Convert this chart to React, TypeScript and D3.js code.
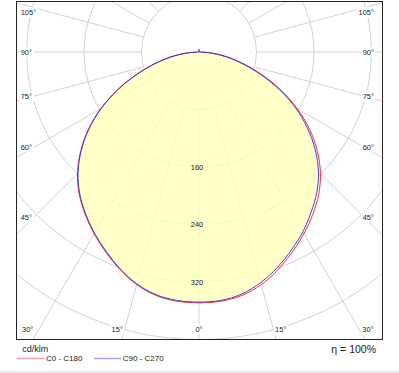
import React from "react";
import * as d3 from "d3";

// gamma angles (deg from nadir)
const gammas = [0, 5, 10, 15, 20, 25, 30, 35, 40, 45, 50, 55, 60, 65, 70, 75, 80, 85, 90];
// C0 - C180 (red), cd/klm
const c0 = [349, 348, 344, 335, 322, 307, 292, 276, 259, 239, 215, 188, 158, 126, 94, 65, 41, 19, 2];
const c180 = [349, 348, 344, 335, 322, 307, 292, 276, 259, 239, 215, 188, 158, 126, 94, 65, 41, 19, 2];
// C90 - C270 (blue)
const c90 = [348, 347, 342, 332, 319, 304, 289, 272, 255, 235, 211, 184, 155, 123, 91, 62, 39, 17, 2];
const c270 = [348, 347, 343, 334, 321, 306, 291, 275, 258, 238, 214, 187, 157, 125, 93, 64, 40, 18, 2];
// small upward component of C90 - C270
const upperGammas = [175, 180];
const c90Upper = [0, 4];

const ringValues = [80, 160, 240, 320, 400];
const ringLabels = [160, 240, 320];
const angleTicks = [0, 15, 30, 45, 60, 75, 90, 105];
const radialStep = 15;

const unitLabel = "cd/klm";
const seriesNames = ["C0 - C180", "C90 - C270"];
const efficiencyLabel = "η = 100%";

const W = 399;
const H = 373;
const cx = 199;
const cy = 52;
const frame = { left: 16, top: 1, right: 382, bottom: 339 };
const FONT = "'Liberation Sans', Arial, sans-serif";

const r = d3.scaleLinear().domain([0, 400]).range([0, 287.5]);
const rad = (deg: number) => (deg * Math.PI) / 180;

type P = { a: number; v: number };

function planePoints(left: number[], right: number[], upperL?: number[], upperR?: number[]): P[] {
  const pts: P[] = [];
  if (upperL) {
    for (let i = upperGammas.length - 1; i >= 0; i--) pts.push({ a: Math.PI + rad(upperGammas[i]), v: upperL[i] });
  }
  for (let i = gammas.length - 1; i >= 1; i--) pts.push({ a: Math.PI + rad(gammas[i]), v: left[i] });
  pts.push({ a: Math.PI, v: (left[0] + right[0]) / 2 });
  for (let i = 1; i < gammas.length; i++) pts.push({ a: Math.PI - rad(gammas[i]), v: right[i] });
  if (upperR) {
    for (let i = 0; i < upperGammas.length; i++) pts.push({ a: Math.PI - rad(upperGammas[i]), v: upperR[i] });
  }
  return pts;
}

const radialLine = d3
  .lineRadial<P>()
  .angle((d) => d.a)
  .radius((d) => r(d.v))
  .curve(d3.curveCatmullRom.alpha(0.5));

const redPath = radialLine(planePoints(c180, c0)) || "";
const bluePath = radialLine(planePoints(c270, c90, c90Upper, c90Upper)) || "";
const fillPath = (radialLine(planePoints(c270, c90)) || "") + "Z";

type Lab = { text: string; x: number; y: number; anchor: "start" | "middle" | "end" };

function angleLabels(): Lab[] {
  const out: Lab[] = [];
  const labelBottomY = frame.bottom - 9.7;
  const leftX = frame.left + 4.7;
  const rightX = frame.right - 8;
  for (const t of angleTicks) {
    const sides = t === 0 ? [1] : [-1, 1];
    for (const s of sides) {
      const sn = Math.sin(rad(t));
      const cs = Math.cos(rad(t));
      const tSide = sn > 1e-9 ? (s > 0 ? frame.right - cx : cx - frame.left) / sn : Infinity;
      const tBottom = cs > 1e-9 ? (frame.bottom - cy) / cs : Infinity;
      const tTop = cs < -1e-9 ? (cy - frame.top) / -cs : Infinity;
      const m = Math.min(tSide, tBottom, tTop);
      const text = `${t}°`;
      const w = text.length * 4.0;
      if (m === tTop) continue;
      if (m === tBottom) {
        let x = cx + s * 305 * Math.tan(rad(t));
        x = Math.max(leftX + 1 + w / 2, Math.min(rightX - w / 2, x));
        out.push({ text, x, y: labelBottomY, anchor: "middle" });
      } else {
        const y = Math.max(12.3, cy + 165 * (cs / sn));
        out.push({ text, x: s < 0 ? leftX : rightX, y, anchor: s < 0 ? "start" : "end" });
      }
    }
  }
  return out;
}

export default function App() {
  const labels = angleLabels();
  const spokes = d3.range(0, 360, radialStep);
  return (
    <svg width={W} height={H} style={{ position: "absolute", left: 0, top: 0, background: "#fff" }} fontFamily={FONT}>
      <defs>
        <clipPath id="frameClip">
          <rect x={frame.left} y={frame.top} width={frame.right - frame.left} height={frame.bottom - frame.top} />
        </clipPath>
      </defs>
      <rect x={0} y={0} width={W} height={H} fill="#fff" />
      <g clipPath="url(#frameClip)">
        {ringValues.map((v) => (
          <circle key={v} cx={cx} cy={cy} r={r(v)} fill="none" stroke="#d2d2d2" strokeWidth={1} />
        ))}
        {spokes.map((a) => {
          const x0 = cx + Math.sin(rad(a)) * r(ringValues[0]);
          const y0 = cy + Math.cos(rad(a)) * r(ringValues[0]);
          const x1 = cx + Math.sin(rad(a)) * 800;
          const y1 = cy + Math.cos(rad(a)) * 800;
          return <line key={a} x1={x0} y1={y0} x2={x1} y2={y1} stroke="#d2d2d2" strokeWidth={1} />;
        })}
        <g transform={`translate(${cx},${cy})`}>
          <path d={fillPath} fill="#ffffbc" fillOpacity={0.82} stroke="none" />
          <path d={redPath} fill="none" stroke="#ff2a2a" strokeWidth={1} />
          <path d={bluePath} fill="none" stroke="#2a2ae0" strokeWidth={1} strokeOpacity={0.9} />
        </g>
        {ringLabels.map((v) => (
          <text key={v} x={cx - 2} y={cy + r(v)} fontSize={7.5} textAnchor="middle" dominantBaseline="central" fill="#222">
            {v}
          </text>
        ))}
        {labels.map((l, i) => {
          const w = l.text.length * 4.0;
          const x0 = l.anchor === "start" ? l.x : l.anchor === "end" ? l.x - w : l.x - w / 2;
          return (
            <g key={i}>
              <rect x={x0 - 1} y={l.y - 5} width={w + 2} height={10} fill="#fff" />
              <text x={l.x} y={l.y} fontSize={7.5} textAnchor={l.anchor} dominantBaseline="central" fill="#222">
                {l.text}
              </text>
            </g>
          );
        })}
      </g>
      <rect
        x={frame.left + 0.5}
        y={frame.top + 0.5}
        width={frame.right - frame.left}
        height={frame.bottom - frame.top}
        fill="none"
        stroke="#222"
        strokeWidth={1}
      />
      <text x={22.3} y={349} fontSize={9} dominantBaseline="central" fill="#222">
        {unitLabel}
      </text>
      <line x1={16.7} y1={358.5} x2={44.3} y2={358.5} stroke="#f09aaa" strokeWidth={1.5} />
      <text x={46} y={358.5} fontSize={8} dominantBaseline="central" fill="#222">
        {seriesNames[0]}
      </text>
      <line x1={94} y1={358.5} x2={121} y2={358.5} stroke="#a0a0f0" strokeWidth={1.5} />
      <text x={122.7} y={358.5} fontSize={8} dominantBaseline="central" fill="#222">
        {seriesNames[1]}
      </text>
      <text x={376} y={349.3} fontSize={10.5} textAnchor="end" dominantBaseline="central" fill="#222">
        {efficiencyLabel}
      </text>
      <rect x={0} y={370.5} width={W} height={3} fill="#ececec" />
    </svg>
  );
}
